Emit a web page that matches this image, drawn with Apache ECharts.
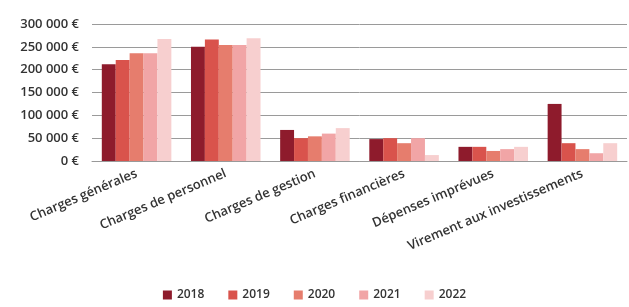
<!DOCTYPE html>
<html>
	<head>
		<meta charset="utf-8">
		<title>Charges</title>
		<script src="https://cdn.jsdelivr.net/npm/echarts@6/dist/echarts.min.js"></script>
		<style>
			html, body { margin: 0; padding: 0; background: #fff; }
			#chart { width: 629px; height: 307px; }
		</style>
	</head>
	<body>
		<div id="chart"></div>
		<script type="text/javascript">
			// catégories de l'axe X
			var categories = ['Charges générales', 'Charges de personnel', 'Charges de gestion',
				'Charges financières', 'Dépenses imprévues', 'Virement aux investissements'];
			var years = ['2018', '2019', '2020', '2021', '2022'];
			// valeurs (en euros)
			var v2018 = [212000, 250000, 68000, 48000, 31000, 125000];
			var v2019 = [221000, 266000, 50000, 50000, 31000, 39000];
			var v2020 = [236000, 254000, 54000, 39000, 22000, 26000];
			var v2021 = [236000, 254000, 60000, 50000, 26000, 17000];
			var v2022 = [267000, 269000, 72000, 13000, 31000, 39000];
			var colors = ['#8e1b2c', '#d9534c', '#e67d6d', '#f1a5a6', '#f7cfcf'];

			var chart = echarts.init(document.getElementById('chart'));
			var allData = [v2018, v2019, v2020, v2021, v2022];
			var series = [];
			for (var i = 0; i < years.length; i++) {
				series.push({
					name: years[i],
					type: 'bar',
					data: allData[i],
					barGap: '0%',
					barCategoryGap: '22%',
					itemStyle: { color: colors[i] }
				});
			}

			var option = {
				animation: false,
				color: colors,
				textStyle: { fontFamily: 'Open Sans' },
				grid: { left: 92, right: 2, top: 24, bottom: 146 },
				legend: {
					data: years,
					bottom: 1,
					left: 'center',
					itemWidth: 9,
					itemHeight: 9,
					itemGap: 24,
					icon: 'rect',
					textStyle: { fontSize: 12, color: '#333', fontWeight: 600 }
				},
				xAxis: {
					type: 'category',
					data: categories,
					axisLine: { lineStyle: { color: '#999' } },
					axisTick: { show: false },
					axisLabel: {
						rotate: 23,
						margin: 12,
						fontSize: 13,
						color: '#333',
						fontWeight: 600,
						interval: 0
					}
				},
				yAxis: {
					type: 'value',
					min: 0,
					max: 300000,
					interval: 50000,
					axisLine: { show: false },
					axisTick: { show: false },
					splitLine: { lineStyle: { color: '#9a9a9a' } },
					axisLabel: {
						margin: 13,
						fontSize: 13,
						color: '#333',
						fontWeight: 600,
						formatter: function (v) {
							return String(v).replace(/\B(?=(\d{3})+(?!\d))/g, ' ') + ' €';
						}
					}
				},
				series: series
			};
			chart.setOption(option);
		</script>
	</body>
</html>
